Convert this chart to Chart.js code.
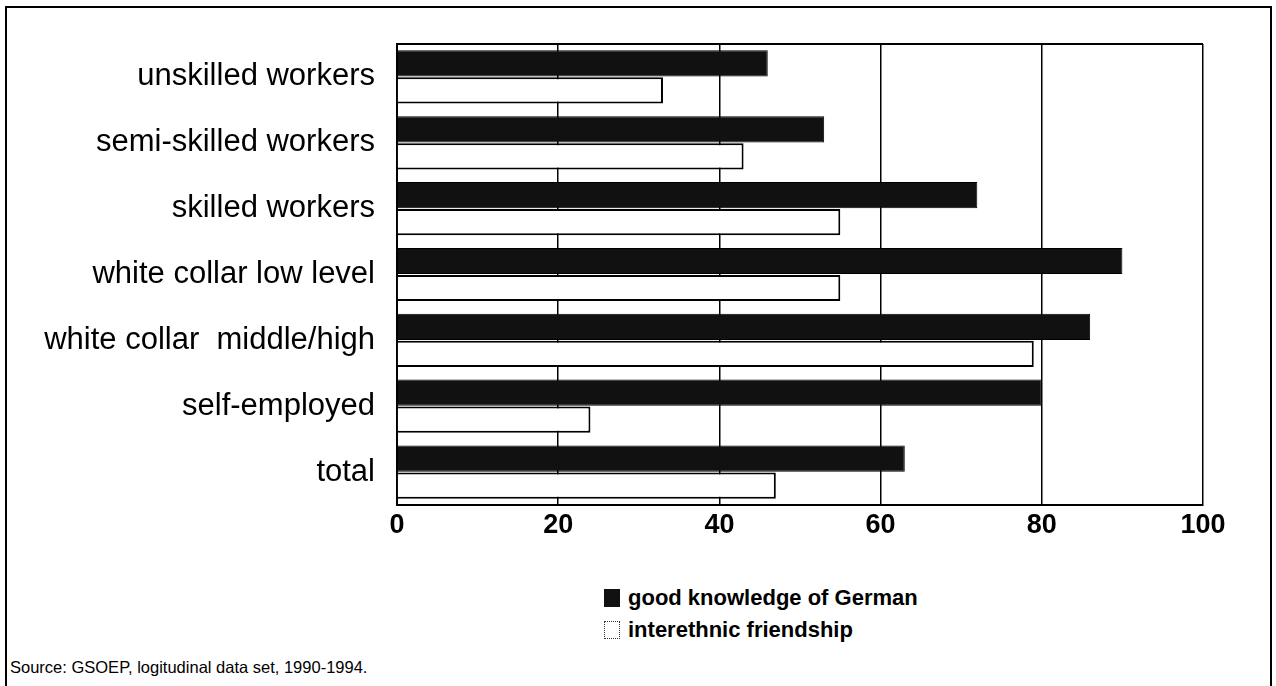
<!DOCTYPE html>
<html lang="en">

<head>
    <meta charset="UTF-8">
    <title>Chart</title>
    <style>
        html, body {
            margin: 0;
            padding: 0;
            background: white;
            overflow: hidden;
        }

        #frame {
            position: absolute;
            left: 5px;
            top: 6px;
            width: 1263px;
            height: 700px;
            border: 2px solid black;
        }

        #chartBox {
            position: absolute;
            left: 0;
            top: 0;
        }

        .legend {
            position: absolute;
            left: 604px;
            font: bold 22px "Liberation Sans", Arial, sans-serif;
            color: black;
            line-height: 26px;
        }

        .legend span.box {
            display: inline-block;
            width: 16px;
            height: 18px;
            margin-right: 8px;
            vertical-align: -2px;
            box-sizing: border-box;
        }

        #source {
            position: absolute;
            left: 10px;
            top: 658px;
            font: 16.5px "Liberation Sans", Arial, sans-serif;
            color: black;
        }
    </style>
</head>

<body>
    <div id="frame"></div>
    <div id="chartBox">
        <canvas id="myChart" width="1276" height="550"></canvas>
    </div>
    <div class="legend" style="top:585px"><span class="box" style="background:#111"></span>good knowledge of German</div>
    <div class="legend" style="top:617px"><span class="box" style="background:white;border:1.5px dotted #333"></span>interethnic friendship</div>
    <div id="source">Source: GSOEP, logitudinal data set, 1990-1994.</div>

    <script src="https://cdn.jsdelivr.net/npm/chart.js"></script>
    <script>
        // data (percent)
        const categories = ['unskilled workers', 'semi-skilled workers', 'skilled workers', 'white collar low level',
            'white collar  middle/high', 'self-employed', 'total'];
        const germanKnowledge = [46, 53, 72, 90, 86, 80, 63];
        const interethnicFriendship = [33, 43, 55, 55, 79, 24, 47];
        const xTicks = [0, 20, 40, 60, 80, 100];

        // draws the top edge of the plot box
        const topLine = {
            id: 'topLine',
            beforeDatasetsDraw(chart) {
                const a = chart.chartArea;
                const c = chart.ctx;
                c.save();
                c.strokeStyle = 'black';
                c.lineWidth = 2;
                c.beginPath();
                c.moveTo(a.left, a.top);
                c.lineTo(a.right, a.top);
                c.stroke();
                c.restore();
            }
        };

        new Chart(document.getElementById('myChart'), {
            type: 'bar',
            data: {
                labels: categories,
                datasets: [
                    {
                        label: 'good knowledge of German',
                        data: germanKnowledge,
                        backgroundColor: '#111111',
                        borderColor: '#000000',
                        borderWidth: 1,
                        categoryPercentage: 0.82,
                        barPercentage: 0.97
                    },
                    {
                        label: 'interethnic friendship',
                        data: interethnicFriendship,
                        backgroundColor: '#ffffff',
                        borderColor: '#000000',
                        borderWidth: 2,
                        categoryPercentage: 0.82,
                        barPercentage: 0.97
                    }
                ]
            },
            options: {
                indexAxis: 'y',
                responsive: false,
                animation: false,
                layout: {
                    padding: { top: 44, right: 73, left: 0, bottom: 0 }
                },
                plugins: {
                    legend: { display: false },
                    tooltip: { enabled: false }
                },
                scales: {
                    x: {
                        min: 0,
                        max: 100,
                        afterBuildTicks: function (scale) {
                            scale.ticks = xTicks.map(v => ({ value: v }));
                        },
                        afterFit: function (scale) {
                            scale.height = 45;
                        },
                        ticks: {
                            color: 'black',
                            padding: 4,
                            font: { family: '"Liberation Sans", Arial, sans-serif', size: 27, weight: 'bold' }
                        },
                        grid: {
                            color: 'black',
                            lineWidth: 1.5,
                            drawTicks: false
                        },
                        border: { display: true, color: 'black', width: 2 }
                    },
                    y: {
                        afterFit: function (scale) {
                            scale.width = 397;
                        },
                        ticks: {
                            color: 'black',
                            padding: 14,
                            font: { family: '"Liberation Sans", Arial, sans-serif', size: 31 }
                        },
                        grid: { display: false },
                        border: { display: true, color: 'black', width: 2 }
                    }
                }
            },
            plugins: [topLine]
        });
    </script>
</body>

</html>
